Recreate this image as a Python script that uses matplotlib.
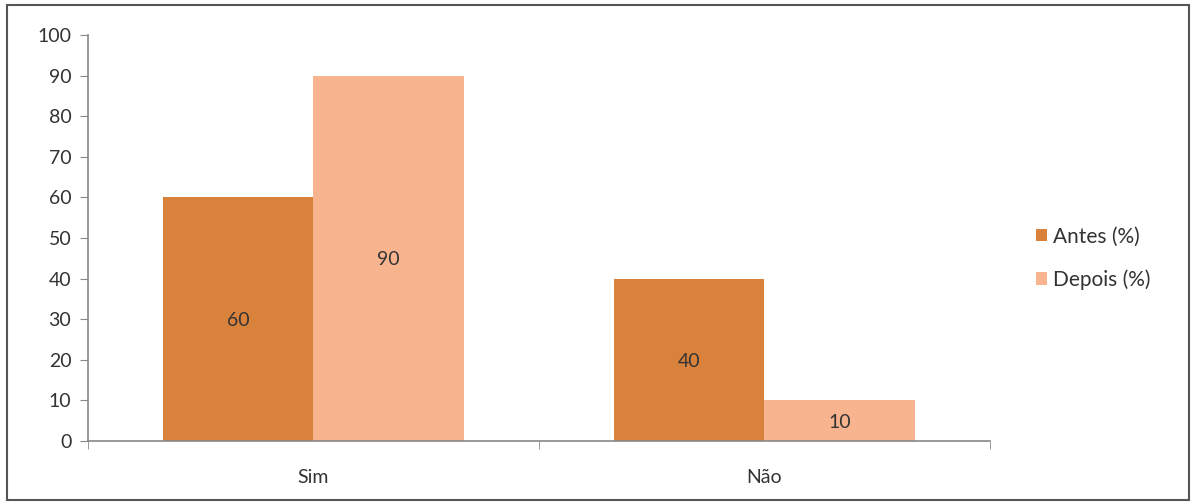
import matplotlib.pyplot as plt
import numpy as np

plt.rcParams['font.family'] = ['Lato', 'DejaVu Sans']

# Dados
categorias = ['Sim', 'Não']
antes = [60, 40]
depois = [90, 10]
series = ['Antes (%)', 'Depois (%)']

cor_antes = '#D9823C'
cor_depois = '#F8B48E'
cinza = '#888888'

fig = plt.figure(figsize=(11.94, 5.04), dpi=100)
fig.patches.append(plt.Rectangle((0.006, 0.008), 0.99, 0.982, transform=fig.transFigure,
                                 fill=False, edgecolor='#555555', linewidth=1.5))
ax = fig.add_axes([0.0737, 0.125, 0.7554, 0.8056])

x = np.arange(len(categorias))
largura = 0.333

b1 = ax.bar(x - largura / 2, antes, largura, color=cor_antes, label=series[0])
b2 = ax.bar(x + largura / 2, depois, largura, color=cor_depois, label=series[1])

# Rótulos dentro das barras
for barras in (b1, b2):
    for b in barras:
        h = b.get_height()
        ax.text(b.get_x() + b.get_width() / 2, h / 2, f'{h:g}',
                ha='center', va='center_baseline', fontsize=14, color='#333333')

ax.set_xlim(-0.5, 1.5)
ax.set_ylim(0, 100)
ax.set_yticks(range(0, 101, 10))
ax.set_xticks(x)
ax.set_xticklabels(categorias)
ax.set_xticks([-0.5, 0.5, 1.5], minor=True)
ax.tick_params(axis='x', which='major', length=0, pad=20, labelsize=14, labelcolor='#333333')
ax.tick_params(axis='x', which='minor', length=6, color=cinza, direction='out')
ax.tick_params(axis='y', length=6, color=cinza, labelsize=14, labelcolor='#333333', pad=6)

for lado in ('top', 'right'):
    ax.spines[lado].set_visible(False)
for lado in ('left', 'bottom'):
    ax.spines[lado].set_color(cinza)
    ax.spines[lado].set_linewidth(1.2)

ax.legend(loc='center left', bbox_to_anchor=(1.03, 0.45), frameon=False,
          fontsize=15, handlelength=0.55, handleheight=0.55, handletextpad=0.3,
          labelspacing=1.1, labelcolor='#333333')

plt.savefig('out.png', dpi=100)
